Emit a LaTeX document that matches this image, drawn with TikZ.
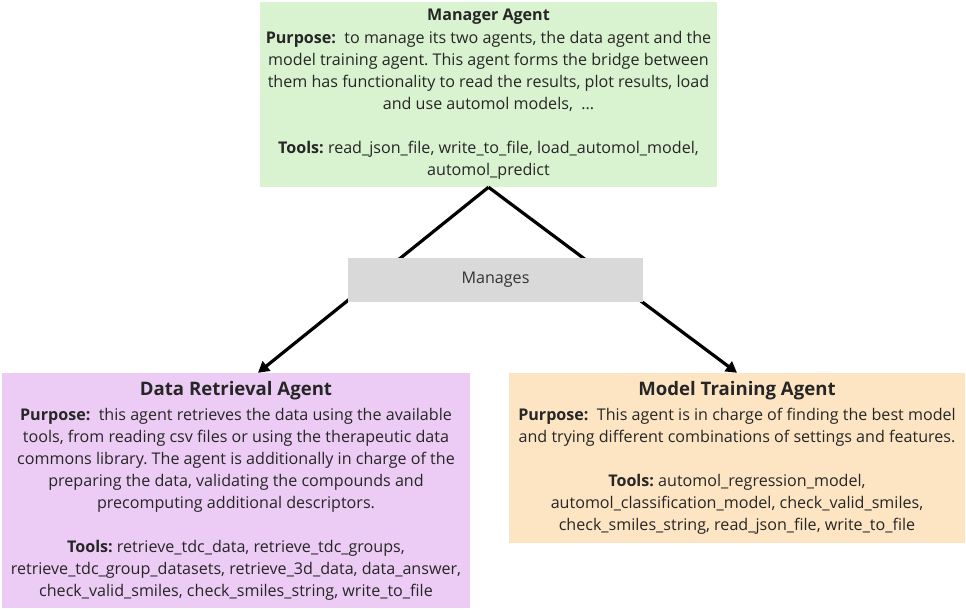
\documentclass[tikz,border=0pt]{standalone}
\usepackage{fontspec}
\setmainfont{Open Sans}
\usepackage{tikz}
\usetikzlibrary{arrows.meta}
\usepackage{xcolor}
\frenchspacing

\definecolor{mgrgreen}{RGB}{217,242,208}
\definecolor{datapurple}{RGB}{236,204,244}
\definecolor{modelorange}{RGB}{253,229,196}
\definecolor{managegray}{RGB}{217,217,217}

\begin{document}
\begin{tikzpicture}[x=1pt, y=-1pt,
		agent/.style={inner sep=0pt, align=center, text=black!85,
			font=\fontsize{16.1}{22}\selectfont},
		link/.style={line width=3.2pt, -{Triangle[length=11pt, width=12pt]}}]
			\useasboundingbox (0,0) rectangle (966,610);
			
			\node[agent, fill=mgrgreen, minimum width=457pt, minimum height=185pt] (manager) at (488.5,94.5)
			{\textbf{Manager Agent}\\[1pt]
			\textbf{Purpose:}\ \ to manage its two agents, the data agent and the\\
			model training agent. This agent forms the bridge between\\
			them has functionality to read the results, plot results, load\\
			and use automol models,\ \ ...\\[22pt]
			\textbf{Tools:} read\_json\_file, write\_to\_file, load\_automol\_model,\\
			automol\_predict};
			
			\node[agent, fill=datapurple, minimum width=468pt, minimum height=235pt] (data) at (236,490.5)
			{{\fontsize{18.6}{24}\selectfont\textbf{Data Retrieval Agent}}\\[3pt]
			\textbf{Purpose:}\ \ this agent retrieves the data using the available\\
			tools, from reading csv files or using the therapeutic data\\
			commons library. The agent is additionally in charge of the\\
			preparing the data, validating the compounds and\\
			precomputing additional descriptors.\\[22pt]
			\textbf{Tools:} retrieve\_tdc\_data, retrieve\_tdc\_groups,\\
			retrieve\_tdc\_group\_datasets, retrieve\_3d\_data, data\_answer,\\
			check\_valid\_smiles, check\_smiles\_string, write\_to\_file};
			
			\node[agent, fill=modelorange, minimum width=456pt, minimum height=170pt] (model) at (737,458)
			{{\fontsize{18.6}{24}\selectfont\textbf{Model Training Agent}}\\[3pt]
			\textbf{Purpose:}\ \ This agent is in charge of finding the best model\\
			and trying different combinations of settings and features.\\[22pt]
			\textbf{Tools:} automol\_regression\_model,\\
			automol\_classification\_model, check\_valid\_smiles,\\
			check\_smiles\_string, read\_json\_file, write\_to\_file};
			
			\draw[link] (manager.south) -- ([xshift=22pt]data.north);
			\draw[link] (manager.south) -- (model.north);
			
			\node[fill=managegray, minimum width=295pt, minimum height=44pt, text=black!80,
				font=\fontsize{16.1}{18}\selectfont] (manages) at (495.5,280) {Manages};
		\end{tikzpicture}
\end{document}
